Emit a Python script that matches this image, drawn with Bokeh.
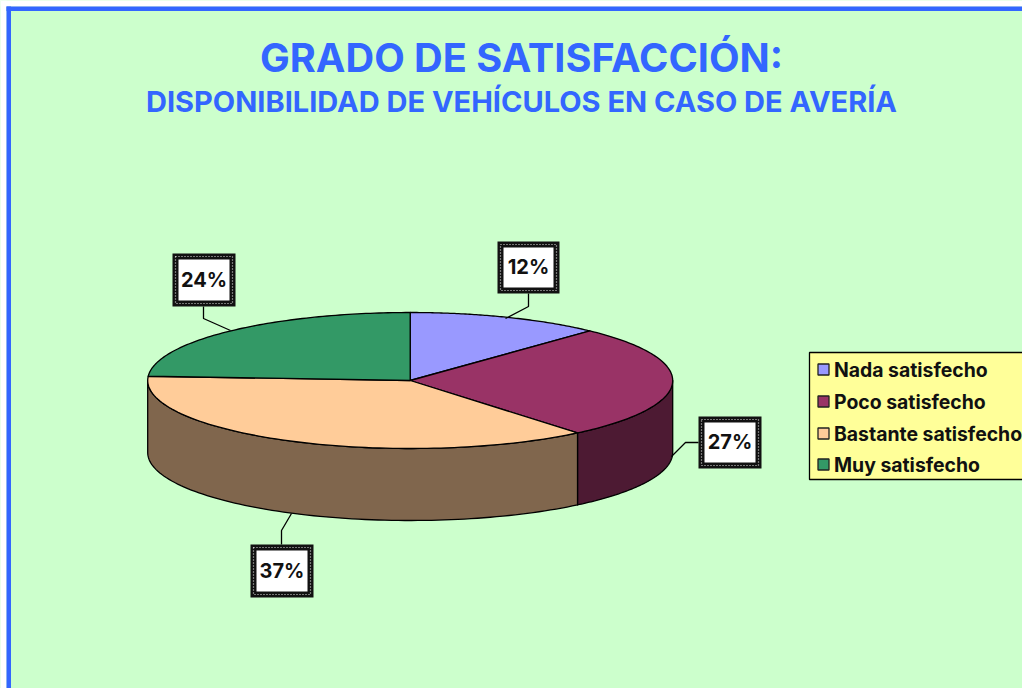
import numpy as np
from bokeh.plotting import figure
from bokeh.core.properties import value
from bokeh.embed import file_html
from bokeh.resources import INLINE

categories = ["Nada satisfecho", "Poco satisfecho", "Bastante satisfecho", "Muy satisfecho"]
shares = [12, 27, 37, 24]
pct_labels = ["12%", "27%", "37%", "24%"]
top_colors = ["#9999FF", "#993366", "#FFCC99", "#339966"]
wall_colors = ["#4D4D80", "#4D1A33", "#80664D", "#1A4D33"]
title = "GRADO DE SATISFACCIÓN:"
subtitle = "DISPONIBILIDAD DE VEHÍCULOS EN CASO DE AVERÍA"

FONT = value("Inter")
CX, CY, RX, RY, DEPTH = 409.7, 380, 262.5, 68, 72
BLUE, BG = "#3366FF", "#CCFFCC"

p = figure(width=1022, height=688, x_range=(0, 1022), y_range=(688, 0),
           output_backend="svg", toolbar_location=None, min_border=0)
p.axis.visible = False
p.grid.visible = False
p.outline_line_color = None
p.background_fill_color = BG
p.border_fill_color = BG

# white page margin and blue frame of the sheet
p.quad(left=[0], right=[6], top=[0], bottom=[688], fill_color="white", line_color=None)
p.quad(left=[0], right=[1022], top=[0], bottom=[6], fill_color="white", line_color=None)
p.quad(left=[6], right=[10.5], top=[6], bottom=[688], fill_color=BLUE, line_color=None)
p.quad(left=[6], right=[1022], top=[6], bottom=[10.5], fill_color=BLUE, line_color=None)


def rim(a, b, dy=0.0):
    t = np.radians(np.linspace(a, b, 90))
    return CX + RX * np.sin(t), CY - RY * np.cos(t) + dy


edges = np.concatenate([[0], np.cumsum(shares)]) * 3.6

# side walls (only the front half of the disc is visible)
for i in range(len(shares)):
    a, b = max(edges[i], 90), min(edges[i + 1], 270)
    if b <= a:
        continue
    x1, y1 = rim(a, b)
    x2, y2 = rim(a, b, DEPTH)
    p.patch(np.r_[x1, x2[::-1]], np.r_[y1, y2[::-1]], fill_color=wall_colors[i],
            line_color="black", line_width=1.3, line_join="round")

# top faces
for i in range(len(shares)):
    x, y = rim(edges[i], edges[i + 1])
    p.patch(np.r_[CX, x], np.r_[CY, y], fill_color=top_colors[i],
            line_color="black", line_width=1.3, line_join="round")

# titles
p.text([521], [57], text=[title], text_font=FONT, text_font_style="bold", text_font_size="39.7px",
       text_color=BLUE, text_align="center", text_baseline="middle")
p.text([521], [101], text=[subtitle], text_font=FONT, text_font_style="bold", text_font_size="29px",
       text_color=BLUE, text_align="center", text_baseline="middle")

# data labels: box left/right/top/bottom and leader line
boxes = [(497, 559, 241, 293), (698, 761, 416, 468), (250, 313, 544, 597), (172, 235, 253, 306)]
leaders = [([528, 528, 505], [293, 306, 318]),
           ([698, 685, 671], [442, 442, 456]),
           ([281, 281, 291], [544, 530, 513]),
           ([203, 203, 230], [306, 318, 330])]
for (l, r, t, b), (lx, ly), lab in zip(boxes, leaders, pct_labels):
    p.line(lx, ly, line_color="black", line_width=1.3)
    p.quad(left=[l], right=[r], top=[t], bottom=[b], fill_color="#111111", line_color=None)
    p.quad(left=[l + 3], right=[r - 3], top=[t + 3], bottom=[b - 3], fill_color=None,
           line_color="#DDDDDD", line_width=1.2, line_dash="1 2")
    p.quad(left=[l + 6], right=[r - 6], top=[t + 6], bottom=[b - 6], fill_color="white", line_color=None)
    p.text([(l + r) / 2], [(t + b) / 2 - 0.5], text=[lab], text_font=FONT, text_font_style="bold",
           text_font_size="20px", text_color="#111111", text_align="center", text_baseline="middle")

# legend
p.quad(left=[809], right=[1030], top=[352], bottom=[479], fill_color="#FFFF99",
       line_color="black", line_width=1.3)
rows = [369, 401, 433, 464]
for cat, col, y in zip(categories, top_colors, rows):
    p.quad(left=[817.5], right=[828.5], top=[y - 5.5], bottom=[y + 5.5], fill_color=col,
           line_color="#222222", line_width=1.3)
    p.text([833.5], [y], text=[cat], text_font=FONT, text_font_style="bold", text_font_size="19.4px",
           text_color="#111111", text_align="left", text_baseline="middle")

open("out.html", "w").write(file_html(p, INLINE))
